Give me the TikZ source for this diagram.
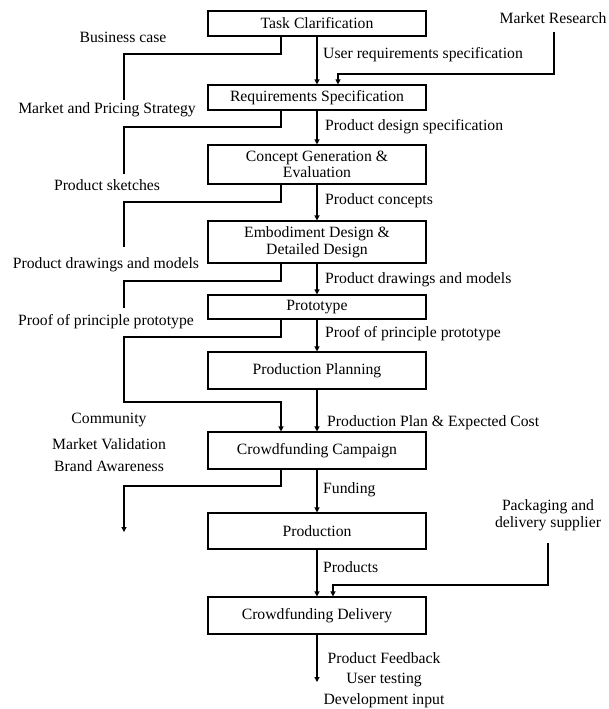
\documentclass[tikz,border=0pt]{standalone}
\usepackage{fontspec}
\setmainfont{Liberation Serif}
\usetikzlibrary{arrows.meta}
\begin{document}
\begin{tikzpicture}[x=1pt,y=-1pt,
  box/.style={draw,line width=1.1pt,minimum width=218pt,inner sep=0pt,align=center,font=\fontsize{15.7}{16.5}\selectfont},
  lbl/.style={inner sep=0pt,align=center,font=\fontsize{15.7}{16.5}\selectfont},
  rl/.style={lbl,anchor=west},
  ln/.style={line width=1.1pt},
  arr/.style={ln,-{Triangle[length=5pt,width=5pt]}}]
\useasboundingbox (0,0) rectangle (609,709);
% main boxes
\node[box,minimum height=25pt] (task) at (317,23.5) {Task Clarification};
\node[box,minimum height=25pt] (req) at (317,97.5) {Requirements Specification};
\node[box,minimum height=39pt] (con) at (317,164.5) {Concept Generation \&\\Evaluation};
\node[box,minimum height=42pt] (emb) at (317,242) {Embodiment Design \&\\Detailed Design};
\node[box,minimum height=24pt] (proto) at (317,307) {Prototype};
\node[box,minimum height=37pt] (plan) at (317,370.5) {Production Planning};
\node[box,minimum height=37pt] (camp) at (317,450.5) {Crowdfunding Campaign};
\node[box,minimum height=36pt] (prod) at (317,531) {Production};
\node[box,minimum height=37pt] (deliv) at (317,615.5) {Crowdfunding Delivery};
% main arrows
\draw[arr] (task) -- (req);
\draw[arr] (req) -- (con);
\draw[arr] (con) -- (emb);
\draw[arr] (emb) -- (proto);
\draw[arr] (proto) -- (plan);
\draw[arr] (plan) -- (camp);
\draw[arr] (camp) -- (prod);
\draw[arr] (prod) -- (deliv);
\coordinate (outend) at (317,682);
\draw[arr] (deliv) -- (outend);
% right labels
\node[rl] (l1) at (323,55) {User requirements specification};
\node[rl] (l2) at (325,127) {Product design specification};
\node[rl] (l3) at (325,201) {Product concepts};
\node[rl] (l4) at (325,280) {Product drawings and models};
\node[rl] (l5) at (325,334) {Proof of principle prototype};
\node[rl] (l6) at (327,423) {Production Plan \& Expected Cost};
\node[rl] (l7) at (323,490) {Funding};
\node[rl] (l8) at (323,567) {Products};
\node[lbl] (f1) at (384,658) {Product Feedback};
\node[lbl] (f2) at (384,680) {User testing};
\node[lbl] (f3) at (384,701) {Development input};
% external inputs
\node[lbl] (mr) at (553,18) {Market Research};
\coordinate (mrtop) at (554,32);
\coordinate (mrk) at (338,74);
\draw[arr] (mrtop) |- (mrk) -- (mrk |- req.north);
\node[lbl] (pk) at (548,515) {Packaging and\\delivery supplier};
\coordinate (pktop) at (548,543);
\coordinate (pkk) at (333,585);
\draw[arr] (pktop) |- (pkk) -- (pkk |- deliv.north);
% left labels
\node[lbl] (a1) at (123,37) {Business case};
\node[lbl] (a2) at (107,110) {Market and Pricing Strategy};
\node[lbl] (a3) at (107,185) {Product sketches};
\node[lbl] (a4) at (106,265) {Product drawings and models};
\node[lbl] (a5) at (106,322) {Proof of principle prototype};
\node[lbl] (a6) at (109,420) {Community};
\node[lbl] (a7) at (109,444) {Market Validation};
\node[lbl] (a8) at (109,466) {Brand Awareness};
% left branches
\coordinate (bx) at (281,0);
\coordinate (b1) at (124,54);  \coordinate (e1) at (124,100);
\coordinate (b2) at (124,127); \coordinate (e2) at (124,174);
\coordinate (b3) at (124,202); \coordinate (e3) at (124,247);
\coordinate (b4) at (124,281); \coordinate (e4) at (124,308);
\coordinate (b5) at (124,337); \coordinate (e5) at (124,402);
\coordinate (b6) at (124,486); \coordinate (e6) at (124,532);
\draw[ln] (task.south -| bx) |- (b1) -- (e1);
\draw[ln] (req.south -| bx) |- (b2) -- (e2);
\draw[ln] (con.south -| bx) |- (b3) -- (e3);
\draw[ln] (emb.south -| bx) |- (b4) -- (e4);
\draw[arr] (proto.south -| bx) |- (b5) -- (e5) -| (camp.north -| bx);
\draw[arr] (camp.south -| bx) |- (b6) -- (e6);
\end{tikzpicture}
\end{document}
